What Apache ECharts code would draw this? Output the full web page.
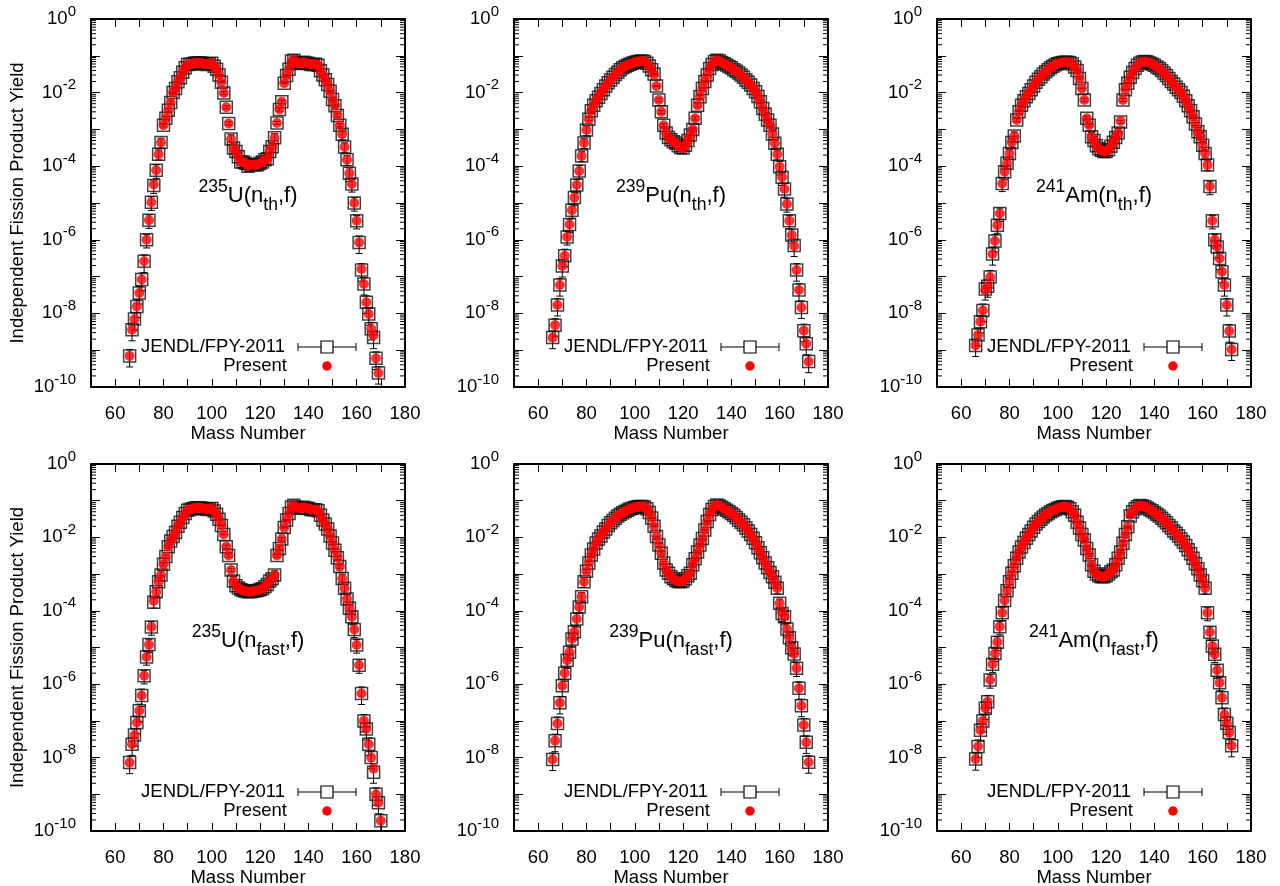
<!DOCTYPE html>
<html><head><meta charset="utf-8">
<script src="https://cdn.jsdelivr.net/npm/echarts@6/dist/echarts.min.js"></script>
<style>html,body{margin:0;padding:0;background:#fff}#c{width:1280px;height:886px}</style>
</head><body><div id="c"></div>
<script>
// ---------- tick labels ----------
const xTickLabels = [60, 80, 100, 120, 140, 160, 180];
const yTickExponents = [0, -2, -4, -6, -8, -10];
const massFirst = 66; // first mass number of every data array

// ---------- 235U(n_th,f) : A = 66..169 ----------
const u235thPresent = [
7e-10,3.6e-9,7e-9,1.55e-8,3.6e-8,8.3e-8,2.6e-7,1.0e-6,3.4e-6,1.05e-5,
3.2e-5,7.8e-5,2.1e-4,4.4e-4,1.3e-3,2.0e-3,3.3e-3,5.4e-3,1.0e-2,1.3e-2,
1.97e-2,2.55e-2,3.6e-2,4.7e-2,5.8e-2,5.9e-2,6.0e-2,6.4e-2,6.4e-2,6.5e-2,
6.3e-2,6.0e-2,5.8e-2,6.1e-2,6.3e-2,5.2e-2,4.3e-2,3.0e-2,1.9e-2,9.7e-3,
4.0e-3,1.45e-3,5.5e-4,3.1e-4,2.5e-4,1.8e-4,1.3e-4,1.3e-4,1.2e-4,1.0e-4,
1.1e-4,1.1e-4,1.1e-4,1.1e-4,1.2e-4,1.3e-4,1.5e-4,1.6e-4,2.5e-4,3.4e-4,
5.9e-4,1.5e-3,3.5e-3,5.6e-3,1.8e-2,2.9e-2,4.3e-2,6.7e-2,7.8e-2,6.5e-2,
6.3e-2,6.2e-2,6.7e-2,6.4e-2,6.2e-2,5.8e-2,5.8e-2,5.9e-2,5.5e-2,3.9e-2,
3.0e-2,2.25e-2,1.67e-2,1.08e-2,6.5e-3,4.4e-3,2.4e-3,1.3e-3,7.4e-4,3.3e-4,
1.5e-4,6.4e-5,3.3e-5,1.0e-5,3.3e-6,8.5e-7,1.6e-7,6.3e-8,2.0e-8,9.6e-9,
3.8e-9,2.5e-9,6.0e-10,2.4e-10];
const u235thJendl = [
7e-10,3.6e-9,7e-9,1.55e-8,3.6e-8,8.3e-8,2.6e-7,1.0e-6,3.4e-6,1.05e-5,
3.0e-5,7.8e-5,2.1e-4,4.4e-4,1.3e-3,2.0e-3,3.3e-3,5.4e-3,1.0e-2,1.3e-2,
1.97e-2,2.55e-2,3.6e-2,4.7e-2,5.8e-2,5.9e-2,6.0e-2,6.4e-2,6.4e-2,6.5e-2,
6.3e-2,6.0e-2,5.8e-2,6.1e-2,6.3e-2,5.2e-2,4.3e-2,3.0e-2,1.9e-2,9.7e-3,
4.0e-3,1.45e-3,5.5e-4,3.1e-4,2.5e-4,1.8e-4,1.3e-4,1.3e-4,1.2e-4,1.0e-4,
1.1e-4,1.1e-4,1.1e-4,1.1e-4,1.2e-4,1.3e-4,1.5e-4,1.6e-4,2.5e-4,3.4e-4,
5.9e-4,1.5e-3,3.5e-3,5.6e-3,1.8e-2,2.9e-2,4.3e-2,7.2e-2,7.6e-2,6.5e-2,
6.3e-2,6.2e-2,6.7e-2,6.4e-2,6.2e-2,5.8e-2,5.8e-2,5.9e-2,5.5e-2,3.9e-2,
3.0e-2,2.25e-2,1.67e-2,1.08e-2,6.5e-3,4.4e-3,2.4e-3,1.3e-3,7.4e-4,3.3e-4,
1.5e-4,6.4e-5,3.3e-5,1.0e-5,3.3e-6,8.5e-7,1.5e-7,6.3e-8,2.0e-8,9.6e-9,
3.8e-9,2.2e-9,6.0e-10,2.4e-10];
const u235thErrPct = [
50,50,50,50,50,50,50,40,40,40,
40,40,30,30,10,10,10,10,3,3,
3,3,3,3,3,3,3,3,3,3,
3,3,3,3,3,3,3,3,3,10,
10,10,30,30,30,30,30,30,30,30,
30,30,30,30,30,30,30,30,30,30,
30,10,10,10,3,3,3,3,3,3,
3,3,3,3,3,3,3,3,3,3,
3,3,3,3,10,10,10,10,30,30,
30,40,40,40,40,50,50,50,50,50,
50,50,50,50];

// ---------- 239Pu(n_th,f) : A = 66..172 ----------
const pu239thPresent = [
2.2e-9,4.8e-9,1.7e-8,5.9e-8,1.95e-7,3.7e-7,1.2e-6,2.6e-6,6.4e-6,1.4e-5,
3.1e-5,7.4e-5,1.9e-4,4.3e-4,9.6e-4,1.9e-3,3.2e-3,4.5e-3,6.0e-3,7.5e-3,
9.5e-3,1.2e-2,1.5e-2,1.85e-2,2.2e-2,2.6e-2,3.1e-2,3.6e-2,4.2e-2,4.7e-2,
5.1e-2,5.5e-2,5.9e-2,6.3e-2,6.6e-2,6.9e-2,7.1e-2,7.2e-2,7.0e-2,6.3e-2,
5.3e-2,4.2e-2,3.0e-2,1.5e-2,6.3e-3,3.0e-3,1.3e-3,8.0e-4,6.0e-4,5.2e-4,
4.6e-4,4.2e-4,3.6e-4,3.2e-4,3.1e-4,3.7e-4,5.0e-4,7.0e-4,1.0e-3,2.0e-3,
4.5e-3,7.7e-3,1.3e-2,2.0e-2,3.0e-2,4.5e-2,5.8e-2,7.0e-2,7.6e-2,7.2e-2,
6.6e-2,6.1e-2,5.6e-2,5.1e-2,4.7e-2,4.2e-2,3.8e-2,3.4e-2,3.0e-2,2.6e-2,
2.2e-2,1.9e-2,1.6e-2,1.3e-2,1.05e-2,7.8e-3,5.6e-3,3.7e-3,2.6e-3,1.8e-3,
1.3e-3,7.5e-4,4.2e-4,2.1e-4,9.7e-5,5.0e-5,2.4e-5,9.4e-6,3.3e-6,1.35e-6,
6.8e-7,1.5e-7,4.3e-8,1.45e-8,3.4e-9,1.5e-9,4.9e-10];
const pu239thJendl = [
2.2e-9,4.8e-9,1.7e-8,5.9e-8,1.95e-7,3.7e-7,1.2e-6,2.6e-6,6.4e-6,1.4e-5,
3.1e-5,7.4e-5,1.9e-4,4.3e-4,9.6e-4,1.9e-3,3.2e-3,4.5e-3,6.0e-3,7.5e-3,
9.5e-3,1.2e-2,1.5e-2,1.85e-2,2.2e-2,2.6e-2,3.1e-2,3.6e-2,4.2e-2,4.7e-2,
5.1e-2,5.5e-2,5.9e-2,6.3e-2,6.6e-2,6.9e-2,7.1e-2,7.2e-2,7.0e-2,6.3e-2,
5.3e-2,4.2e-2,3.2e-2,1.5e-2,6.3e-3,3.0e-3,1.3e-3,8.0e-4,6.0e-4,5.2e-4,
4.6e-4,4.2e-4,3.6e-4,3.2e-4,3.1e-4,3.7e-4,5.0e-4,7.0e-4,1.0e-3,2.0e-3,
4.5e-3,7.7e-3,1.3e-2,2.0e-2,3.0e-2,4.5e-2,5.8e-2,7.0e-2,7.6e-2,7.2e-2,
6.6e-2,6.1e-2,5.6e-2,5.1e-2,4.7e-2,4.2e-2,3.8e-2,3.4e-2,3.0e-2,2.6e-2,
2.2e-2,1.9e-2,1.6e-2,1.3e-2,1.05e-2,7.8e-3,5.6e-3,3.7e-3,2.6e-3,1.8e-3,
1.3e-3,7.5e-4,4.2e-4,2.1e-4,9.7e-5,5.0e-5,2.4e-5,9.4e-6,3.3e-6,1.35e-6,
7.0e-7,1.5e-7,4.3e-8,1.45e-8,3.4e-9,1.5e-9,4.9e-10];
const pu239thErrPct = [
50,50,50,50,50,50,40,40,40,40,
40,40,30,30,30,10,10,10,10,10,
10,3,3,3,3,3,3,3,3,3,
3,3,3,3,3,3,3,3,3,3,
3,3,3,3,10,10,10,30,30,30,
30,30,30,30,30,30,30,30,10,10,
10,10,3,3,3,3,3,3,3,3,
3,3,3,3,3,3,3,3,3,3,
3,3,3,3,3,10,10,10,10,10,
10,30,30,30,40,40,40,40,40,40,
50,50,50,50,50,50,50];

// ---------- 241Am(n_th,f) : A = 66..172 ----------
const am241thPresent = [
1.35e-9,2.6e-9,5.9e-9,1.2e-8,4.3e-8,5.5e-8,9.8e-8,4.1e-7,9.3e-7,2.5e-6,
5.2e-6,3.4e-5,7.1e-5,1.2e-4,2.2e-4,4.4e-4,6.6e-4,1.8e-3,3.0e-3,4.5e-3,
6.0e-3,7.7e-3,9.5e-3,1.2e-2,1.5e-2,1.9e-2,2.3e-2,2.7e-2,3.2e-2,3.7e-2,
4.2e-2,4.7e-2,5.2e-2,5.7e-2,6.1e-2,6.4e-2,6.6e-2,6.7e-2,6.7e-2,6.5e-2,
6.0e-2,5.0e-2,4.0e-2,2.4e-2,1.3e-2,6.3e-3,2.0e-3,1.3e-3,6.3e-4,5.0e-4,
3.6e-4,3.0e-4,2.7e-4,2.5e-4,2.5e-4,2.8e-4,3.5e-4,4.5e-4,6.0e-4,8.0e-4,
1.7e-3,6.3e-3,1.2e-2,1.8e-2,2.6e-2,3.5e-2,4.5e-2,5.5e-2,6.3e-2,6.8e-2,
7.0e-2,6.8e-2,6.4e-2,6.0e-2,5.5e-2,5.0e-2,4.5e-2,4.0e-2,3.4e-2,2.9e-2,
2.4e-2,2.0e-2,1.7e-2,1.4e-2,1.2e-2,1.0e-2,8.0e-3,6.0e-3,4.4e-3,3.2e-3,
2.2e-3,1.4e-3,8.6e-4,6.3e-4,3.7e-4,2.2e-4,1.07e-4,2.8e-5,3.3e-6,1.0e-6,
6.4e-7,3.1e-7,1.35e-7,5.9e-8,1.7e-8,3.3e-9,1.05e-9];
const am241thJendl = [
1.35e-9,2.6e-9,5.9e-9,1.2e-8,4.6e-8,5.5e-8,9.8e-8,4.1e-7,9.3e-7,2.5e-6,
5.2e-6,3.4e-5,7.1e-5,1.2e-4,2.2e-4,4.4e-4,6.6e-4,1.8e-3,3.0e-3,4.5e-3,
6.0e-3,7.7e-3,9.5e-3,1.2e-2,1.5e-2,1.9e-2,2.3e-2,2.7e-2,3.2e-2,3.7e-2,
4.2e-2,4.7e-2,5.2e-2,5.7e-2,6.1e-2,6.4e-2,6.6e-2,6.7e-2,6.7e-2,6.5e-2,
6.0e-2,5.0e-2,4.0e-2,2.4e-2,1.3e-2,6.3e-3,2.0e-3,1.3e-3,6.3e-4,5.0e-4,
3.6e-4,3.0e-4,2.7e-4,2.5e-4,2.5e-4,2.8e-4,3.5e-4,4.5e-4,6.0e-4,8.0e-4,
1.6e-3,6.3e-3,1.2e-2,1.8e-2,2.6e-2,3.5e-2,4.5e-2,5.5e-2,6.3e-2,6.8e-2,
7.0e-2,6.8e-2,6.4e-2,6.0e-2,5.5e-2,5.0e-2,4.5e-2,4.0e-2,3.4e-2,2.9e-2,
2.4e-2,2.0e-2,1.7e-2,1.4e-2,1.2e-2,1.0e-2,8.0e-3,6.0e-3,4.4e-3,3.2e-3,
2.2e-3,1.4e-3,8.6e-4,6.3e-4,3.7e-4,2.2e-4,1.07e-4,2.8e-5,3.3e-6,1.0e-6,
6.4e-7,3.1e-7,1.35e-7,5.9e-8,1.7e-8,3.3e-9,1.05e-9];
const am241thErrPct = [
50,50,50,50,50,50,50,50,50,40,
40,40,40,30,30,30,30,10,10,10,
10,10,10,3,3,3,3,3,3,3,
3,3,3,3,3,3,3,3,3,3,
3,3,3,3,3,10,10,10,30,30,
30,30,30,30,30,30,30,30,30,30,
10,10,3,3,3,3,3,3,3,3,
3,3,3,3,3,3,3,3,3,3,
3,3,3,3,3,3,10,10,10,10,
10,10,30,30,30,30,30,40,40,40,
50,50,50,50,50,50,50];

// ---------- 235U(n_fast,f) : A = 66..170 ----------
const u235fastPresent = [
7.3e-9,2.3e-8,4.1e-8,9e-8,1.9e-7,4.9e-7,1.7e-6,5.5e-6,1.2e-5,3.6e-5,
1.85e-4,3.3e-4,6.2e-4,9.5e-4,1.85e-3,3.0e-3,5.6e-3,8.0e-3,1.05e-2,1.35e-2,
2.0e-2,2.6e-2,3.5e-2,4.5e-2,5.5e-2,5.8e-2,6.0e-2,6.3e-2,6.4e-2,6.4e-2,
6.2e-2,6.0e-2,5.8e-2,6.0e-2,6.1e-2,5.2e-2,4.3e-2,3.1e-2,2.1e-2,1.2e-2,
5.6e-3,3.2e-3,1.3e-3,6.5e-4,4.8e-4,4.2e-4,3.8e-4,3.6e-4,3.4e-4,3.3e-4,
3.3e-4,3.4e-4,3.5e-4,3.6e-4,3.8e-4,4.0e-4,4.5e-4,5.2e-4,6.5e-4,7.5e-4,
9.5e-4,3.2e-3,5.0e-3,9.0e-3,1.85e-2,3.0e-2,4.5e-2,6.7e-2,7.5e-2,6.6e-2,
6.3e-2,6.2e-2,6.6e-2,6.3e-2,6.1e-2,5.8e-2,5.7e-2,5.7e-2,5.3e-2,4.0e-2,
3.0e-2,2.3e-2,1.7e-2,1.1e-2,7.0e-3,4.5e-3,2.8e-3,1.6e-3,7.6e-4,4.1e-4,
2.1e-4,1.17e-4,6.9e-5,3.1e-5,1.17e-5,3.3e-6,5.6e-7,1.0e-7,6.0e-8,2.3e-8,
1.0e-8,5.0e-9,1.0e-9,5.9e-10,1.9e-10];
const u235fastJendl = [
7.3e-9,2.3e-8,4.1e-8,9e-8,1.9e-7,4.9e-7,1.7e-6,5.5e-6,1.2e-5,3.6e-5,
1.7e-4,3.3e-4,6.2e-4,9.5e-4,1.85e-3,3.0e-3,5.6e-3,8.0e-3,1.05e-2,1.35e-2,
2.0e-2,2.6e-2,3.5e-2,4.5e-2,5.5e-2,5.8e-2,6.0e-2,6.3e-2,6.4e-2,6.4e-2,
6.2e-2,6.0e-2,5.8e-2,6.0e-2,6.1e-2,5.2e-2,4.3e-2,3.1e-2,2.1e-2,1.2e-2,
5.6e-3,3.2e-3,1.3e-3,6.5e-4,4.8e-4,4.2e-4,3.8e-4,3.6e-4,3.4e-4,3.3e-4,
3.3e-4,3.4e-4,3.5e-4,3.6e-4,3.8e-4,4.0e-4,4.5e-4,5.2e-4,6.5e-4,7.5e-4,
9.5e-4,3.2e-3,5.0e-3,9.0e-3,1.85e-2,3.0e-2,4.5e-2,6.7e-2,7.5e-2,6.6e-2,
6.3e-2,6.2e-2,6.6e-2,6.3e-2,6.1e-2,5.8e-2,5.7e-2,5.7e-2,5.3e-2,4.0e-2,
3.0e-2,2.3e-2,1.7e-2,1.1e-2,7.0e-3,4.5e-3,2.8e-3,1.6e-3,7.6e-4,4.1e-4,
2.1e-4,1.17e-4,6.9e-5,3.1e-5,1.17e-5,3.3e-6,5.6e-7,1.0e-7,6.0e-8,2.3e-8,
1.0e-8,4.0e-9,1.0e-9,5.9e-10,1.9e-10];
const u235fastErrPct = [
50,50,50,50,50,50,40,40,40,40,
30,30,30,30,10,10,10,10,3,3,
3,3,3,3,3,3,3,3,3,3,
3,3,3,3,3,3,3,3,3,3,
10,10,10,30,30,30,30,30,30,30,
30,30,30,30,30,30,30,30,30,30,
30,10,10,10,3,3,3,3,3,3,
3,3,3,3,3,3,3,3,3,3,
3,3,3,3,10,10,10,10,30,30,
30,30,40,40,40,40,50,50,50,50,
50,50,50,50,50];

// ---------- 239Pu(n_fast,f) : A = 66..172 ----------
const pu239fastPresent = [
8.9e-9,2.9e-8,8.5e-8,3.1e-7,9.1e-7,2.0e-6,4.5e-6,7.4e-6,1.7e-5,2.7e-5,
6.0e-5,1.27e-4,2.4e-4,6.2e-4,1.2e-3,2.0e-3,3.3e-3,4.8e-3,7.0e-3,9.0e-3,
1.1e-2,1.4e-2,1.7e-2,2.1e-2,2.5e-2,2.9e-2,3.3e-2,3.8e-2,4.3e-2,4.7e-2,
5.1e-2,5.5e-2,5.9e-2,6.2e-2,6.5e-2,6.8e-2,7.0e-2,7.0e-2,6.7e-2,6.0e-2,
4.8e-2,3.4e-2,2.0e-2,1.05e-2,6.2e-3,3.7e-3,2.0e-3,1.3e-3,1.05e-3,8.5e-4,
7.5e-4,6.7e-4,6.3e-4,6.2e-4,6.5e-4,7.5e-4,9.0e-4,1.05e-3,1.8e-3,2.6e-3,
4.0e-3,6.2e-3,9.4e-3,1.6e-2,2.7e-2,4.2e-2,5.8e-2,7.0e-2,7.6e-2,7.2e-2,
6.6e-2,6.0e-2,5.5e-2,5.0e-2,4.5e-2,4.0e-2,3.5e-2,3.0e-2,2.6e-2,2.2e-2,
1.8e-2,1.5e-2,1.2e-2,9.5e-3,7.2e-3,5.2e-3,3.8e-3,2.8e-3,2.0e-3,1.5e-3,
1.1e-3,8.5e-4,6.0e-4,4.1e-4,1.6e-4,9.1e-5,6.9e-5,3.2e-5,1.85e-5,9.9e-6,
6.7e-6,2.7e-6,7.7e-7,2.6e-7,7.7e-8,2.6e-8,7.5e-9];
const pu239fastJendl = [
8.9e-9,2.9e-8,8.5e-8,3.1e-7,9.1e-7,2.0e-6,4.5e-6,7.4e-6,1.7e-5,2.7e-5,
6.0e-5,1.27e-4,2.4e-4,6.2e-4,1.2e-3,2.0e-3,3.3e-3,4.8e-3,7.0e-3,9.0e-3,
1.1e-2,1.4e-2,1.7e-2,2.1e-2,2.5e-2,2.9e-2,3.3e-2,3.8e-2,4.3e-2,4.7e-2,
5.1e-2,5.5e-2,5.9e-2,6.2e-2,6.5e-2,6.8e-2,7.0e-2,7.0e-2,6.7e-2,6.0e-2,
4.8e-2,3.4e-2,2.0e-2,1.05e-2,6.2e-3,3.7e-3,2.0e-3,1.3e-3,1.05e-3,8.5e-4,
7.5e-4,6.7e-4,6.3e-4,6.2e-4,6.5e-4,7.5e-4,9.0e-4,1.05e-3,1.8e-3,2.6e-3,
4.0e-3,6.2e-3,9.4e-3,1.6e-2,2.7e-2,4.2e-2,5.8e-2,7.0e-2,7.6e-2,7.2e-2,
6.6e-2,6.0e-2,5.5e-2,5.0e-2,4.5e-2,4.0e-2,3.5e-2,3.0e-2,2.6e-2,2.2e-2,
1.8e-2,1.5e-2,1.2e-2,9.5e-3,7.2e-3,5.2e-3,3.8e-3,2.8e-3,2.0e-3,1.5e-3,
1.1e-3,8.5e-4,6.0e-4,4.1e-4,1.6e-4,8.5e-5,6.9e-5,3.2e-5,1.85e-5,9.9e-6,
6.7e-6,2.7e-6,7.7e-7,2.6e-7,7.7e-8,2.6e-8,7.5e-9];
const pu239fastErrPct = [
50,50,50,50,50,40,40,40,40,40,
40,30,30,30,10,10,10,10,10,10,
3,3,3,3,3,3,3,3,3,3,
3,3,3,3,3,3,3,3,3,3,
3,3,3,3,10,10,10,10,10,30,
30,30,30,30,30,30,30,10,10,10,
10,10,10,3,3,3,3,3,3,3,
3,3,3,3,3,3,3,3,3,3,
3,3,3,10,10,10,10,10,10,10,
10,30,30,30,30,40,40,40,40,40,
40,40,50,50,50,50,50];

// ---------- 241Am(n_fast,f) : A = 66..172 ----------
const am241fastPresent = [
9.1e-9,2.0e-8,5.6e-8,1.0e-7,2.2e-7,3.3e-7,1.3e-6,3.5e-6,6.9e-6,1.4e-5,
3.7e-5,8.9e-5,1.9e-4,3.5e-4,6.2e-4,1.05e-3,1.7e-3,2.7e-3,4.0e-3,5.5e-3,
7.3e-3,9.5e-3,1.2e-2,1.5e-2,1.9e-2,2.3e-2,2.7e-2,3.1e-2,3.6e-2,4.1e-2,
4.5e-2,5.0e-2,5.4e-2,5.8e-2,6.2e-2,6.5e-2,6.8e-2,6.9e-2,6.6e-2,6.0e-2,
5.0e-2,4.0e-2,2.6e-2,1.8e-2,1.2e-2,8.5e-3,5.0e-3,3.3e-3,1.8e-3,1.2e-3,
1.0e-3,9.0e-4,8.5e-4,8.5e-4,9.0e-4,1.0e-3,1.15e-3,1.3e-3,1.8e-3,2.7e-3,
4.0e-3,6.9e-3,1.2e-2,1.95e-2,4.1e-2,5.0e-2,6.0e-2,6.8e-2,7.4e-2,7.2e-2,
6.8e-2,6.3e-2,5.8e-2,5.3e-2,4.8e-2,4.3e-2,3.8e-2,3.3e-2,2.9e-2,2.5e-2,
2.1e-2,1.8e-2,1.5e-2,1.3e-2,1.1e-2,9.0e-3,7.5e-3,6.0e-3,4.6e-3,3.6e-3,
2.7e-3,1.9e-3,1.4e-3,9.5e-4,6.6e-4,4.1e-4,8.9e-5,2.6e-5,1.1e-5,6.5e-6,
2.4e-6,1.1e-6,4.3e-7,1.5e-7,8.6e-8,4.8e-8,2.1e-8];
const am241fastJendl = [
9.1e-9,2.0e-8,5.6e-8,1.0e-7,2.2e-7,3.3e-7,1.3e-6,3.5e-6,6.9e-6,1.4e-5,
3.7e-5,8.9e-5,1.9e-4,3.5e-4,6.2e-4,1.05e-3,1.7e-3,2.7e-3,4.0e-3,5.5e-3,
7.3e-3,9.5e-3,1.2e-2,1.5e-2,1.9e-2,2.3e-2,2.7e-2,3.1e-2,3.6e-2,4.1e-2,
4.5e-2,5.0e-2,5.4e-2,5.8e-2,6.2e-2,6.5e-2,6.8e-2,6.9e-2,6.6e-2,6.0e-2,
5.0e-2,4.0e-2,2.6e-2,1.8e-2,1.2e-2,8.5e-3,5.0e-3,3.3e-3,1.8e-3,1.2e-3,
1.0e-3,9.0e-4,8.5e-4,8.5e-4,9.0e-4,1.0e-3,1.15e-3,1.3e-3,1.8e-3,2.7e-3,
4.0e-3,6.9e-3,1.2e-2,1.95e-2,3.8e-2,5.0e-2,6.0e-2,6.8e-2,7.4e-2,7.2e-2,
6.8e-2,6.3e-2,5.8e-2,5.3e-2,4.8e-2,4.3e-2,3.8e-2,3.3e-2,2.9e-2,2.5e-2,
2.1e-2,1.8e-2,1.5e-2,1.3e-2,1.1e-2,9.0e-3,7.5e-3,6.0e-3,4.6e-3,3.6e-3,
2.7e-3,1.9e-3,1.4e-3,9.5e-4,6.6e-4,4.1e-4,8.9e-5,2.6e-5,1.1e-5,6.5e-6,
2.4e-6,1.1e-6,4.3e-7,1.5e-7,8.6e-8,4.8e-8,2.1e-8];
const am241fastErrPct = [
50,50,50,50,50,50,40,40,40,40,
40,40,30,30,30,10,10,10,10,10,
10,10,3,3,3,3,3,3,3,3,
3,3,3,3,3,3,3,3,3,3,
3,3,3,3,3,10,10,10,10,10,
10,30,30,30,30,10,10,10,10,10,
10,10,3,3,3,3,3,3,3,3,
3,3,3,3,3,3,3,3,3,3,
3,3,3,3,3,10,10,10,10,10,
10,10,10,30,30,30,40,40,40,40,
40,40,50,50,50,50,50];

// ---------- panel descriptions ----------
const panels = [
  {col:0,row:0, target:'235', nucl:'U',  proj:'th',   present:u235thPresent,   jendl:u235thJendl,   err:u235thErrPct},
  {col:1,row:0, target:'239', nucl:'Pu', proj:'th',   present:pu239thPresent,  jendl:pu239thJendl,  err:pu239thErrPct},
  {col:2,row:0, target:'241', nucl:'Am', proj:'th',   present:am241thPresent,  jendl:am241thJendl,  err:am241thErrPct},
  {col:0,row:1, target:'235', nucl:'U',  proj:'fast', present:u235fastPresent, jendl:u235fastJendl, err:u235fastErrPct},
  {col:1,row:1, target:'239', nucl:'Pu', proj:'fast', present:pu239fastPresent,jendl:pu239fastJendl,err:pu239fastErrPct},
  {col:2,row:1, target:'241', nucl:'Am', proj:'fast', present:am241fastPresent,jendl:am241fastJendl,err:am241fastErrPct}
];

// ---------- layout ----------
const FONT = '"Liberation Sans", Arial, Helvetica, sans-serif';
const colLeft = [91, 514, 937];
const rowTop = [19, 464];
const boxW = 314;
const boxH = [368, 367];
const X_MIN = 50, X_MAX = 180, Y_MIN = 1e-10, Y_MAX = 1;

// log minor tick positions (2..9 x 10^n) - axis decoration only
const minorTickVals = [];
for (let n = -10; n < 0; n++) for (let k = 2; k <= 9; k++) minorTickVals.push([X_MIN, k * Math.pow(10, n)]);

const axisLineStyle = {show:true, onZero:false, lineStyle:{color:'#000', width:2}};
const tickStyle = {color:'#000', width:1};

function yLabel(v) {
  const e = Math.round(Math.log10(v));
  return yTickExponents.indexOf(e) >= 0 ? '{b|10}{e|' + e + '}' : '';
}
function xLabel(v) {
  const r = Math.round(v);
  return xTickLabels.indexOf(r) >= 0 ? String(r) : '';
}

const option = {backgroundColor:'#ffffff', animation:false, grid:[], xAxis:[], yAxis:[], series:[], graphic:[]};

panels.forEach((p, i) => {
  const L = colLeft[p.col], T = rowTop[p.row], H = boxH[p.row];
  option.grid.push({left:L, top:T, width:boxW, height:H, containLabel:false, outerBoundsMode:'none'});

  option.xAxis.push({
    type:'value', gridIndex:i, min:X_MIN, max:X_MAX, interval:10, position:'bottom',
    axisLine:axisLineStyle, splitLine:{show:false},
    axisTick:{show:true, inside:true, length:8, lineStyle:tickStyle},
    axisLabel:{show:true, margin:17, formatter:xLabel, color:'#000', fontSize:18.5, fontFamily:FONT},
    name:'Mass Number', nameLocation:'middle', nameGap:37,
    nameTextStyle:{color:'#000', fontSize:18.5, fontFamily:FONT}
  });
  option.xAxis.push({
    type:'value', gridIndex:i, min:X_MIN, max:X_MAX, interval:10, position:'top',
    axisLine:axisLineStyle, splitLine:{show:false},
    axisTick:{show:true, inside:true, length:8, lineStyle:tickStyle},
    axisLabel:{show:false}
  });
  const richLab = {
    b:{fontSize:18.5, fontFamily:FONT, color:'#000', lineHeight:30},
    e:{fontSize:15, fontFamily:FONT, color:'#000', lineHeight:14, verticalAlign:'top'}
  };
  // log axes: interval is counted in decades
  option.yAxis.push({
    type:'log', logBase:10, gridIndex:i, min:Y_MIN, max:Y_MAX, interval:1, position:'left',
    axisLine:axisLineStyle, splitLine:{show:false},
    axisTick:{show:true, inside:true, length:9, lineStyle:tickStyle},
    axisLabel:{show:true, margin:15, formatter:yLabel, rich:richLab},
    name: p.col === 0 ? 'Independent Fission Product Yield' : '',
    nameLocation:'middle', nameGap:64,
    nameTextStyle:{color:'#000', fontSize:18.5, fontFamily:FONT}
  });
  option.yAxis.push({
    type:'log', logBase:10, gridIndex:i, min:Y_MIN, max:Y_MAX, interval:1, position:'right',
    axisLine:axisLineStyle, splitLine:{show:false},
    axisTick:{show:true, inside:true, length:9, lineStyle:tickStyle},
    axisLabel:{show:false}
  });

  const xi = 2 * i, yi = 2 * i;

  // minor log ticks on left and right frame edges
  option.series.push({
    type:'custom', xAxisIndex:xi, yAxisIndex:yi, silent:true, clip:false, z:1,
    data: minorTickVals,
    renderItem: (params, api) => {
      const cs = params.coordSys;
      const y = api.coord([api.value(0), api.value(1)])[1];
      return {type:'group', children:[
        {type:'line', shape:{x1:cs.x, y1:y, x2:cs.x + 5, y2:y}, style:{stroke:'#000', lineWidth:1}},
        {type:'line', shape:{x1:cs.x + cs.width - 5, y1:y, x2:cs.x + cs.width, y2:y}, style:{stroke:'#000', lineWidth:1}}
      ]};
    }
  });

  // JENDL error bars
  option.series.push({
    type:'custom', xAxisIndex:xi, yAxisIndex:yi, silent:true, clip:true, z:3,
    data: p.jendl.map((v, k) => [massFirst + k, v, p.err[k]]),
    renderItem: (params, api) => {
      const a = api.value(0), v = api.value(1), s = api.value(2) / 100;
      const lo = api.coord([a, v * (1 - s)]);
      const hi = api.coord([a, v * (1 + s)]);
      const st = {stroke:'#000', lineWidth:1};
      return {type:'group', children:[
        {type:'line', shape:{x1:lo[0], y1:lo[1], x2:hi[0], y2:hi[1]}, style:st},
        {type:'line', shape:{x1:lo[0] - 3.5, y1:lo[1], x2:lo[0] + 3.5, y2:lo[1]}, style:st},
        {type:'line', shape:{x1:hi[0] - 3.5, y1:hi[1], x2:hi[0] + 3.5, y2:hi[1]}, style:st}
      ]};
    }
  });

  // JENDL/FPY-2011 hollow squares
  option.series.push({
    name:'JENDL/FPY-2011', type:'scatter', xAxisIndex:xi, yAxisIndex:yi, silent:true, z:4,
    symbol:'rect', symbolSize:12,
    itemStyle:{color:'rgba(0,0,0,0)', borderColor:'#111', borderWidth:1.5},
    data: p.jendl.map((v, k) => [massFirst + k, v])
  });

  // Present red dots
  option.series.push({
    name:'Present', type:'scatter', xAxisIndex:xi, yAxisIndex:yi, silent:true, z:5,
    symbol:'circle', symbolSize:10,
    itemStyle:{color:'#ff0000', borderWidth:0},
    data: p.present.map((v, k) => [massFirst + k, v])
  });

  // reaction label
  option.graphic.push({
    type:'text', x: L + boxW / 2, y: T + 177, z:100, silent:true,
    style:{
      text:'{s|' + p.target + '}{m|' + p.nucl + '(n}{d|' + p.proj + '}{m|,f)}',
      align:'center', verticalAlign:'middle', fill:'#000',
      rich:{
        s:{fontSize:17.6, fontFamily:FONT, fill:'#000', lineHeight:18, verticalAlign:'top'},
        m:{fontSize:22, fontFamily:FONT, fill:'#000', lineHeight:36},
        d:{fontSize:17.6, fontFamily:FONT, fill:'#000', lineHeight:22, verticalAlign:'bottom'}
      }
    }
  });

  // legend (key)
  const ky1 = T + 328, ky2 = T + 347, kx = L + 236;
  const legStroke = {stroke:'#000', lineWidth:1};
  option.graphic.push(
    {type:'text', x:L + 194, y:ky1, z:100, silent:true,
     style:{text:'JENDL/FPY-2011', align:'right', verticalAlign:'middle', fill:'#000', fontSize:18.5, fontFamily:FONT}},
    {type:'line', z:100, silent:true, shape:{x1:L + 207, y1:ky1, x2:L + 265, y2:ky1}, style:legStroke},
    {type:'line', z:100, silent:true, shape:{x1:L + 207, y1:ky1 - 4, x2:L + 207, y2:ky1 + 4}, style:legStroke},
    {type:'line', z:100, silent:true, shape:{x1:L + 265, y1:ky1 - 4, x2:L + 265, y2:ky1 + 4}, style:legStroke},
    {type:'rect', z:101, silent:true, shape:{x:kx - 6, y:ky1 - 6, width:12, height:12}, style:{fill:'#fff', stroke:'#000', lineWidth:1.2}},
    {type:'text', x:L + 196, y:ky2, z:100, silent:true,
     style:{text:'Present', align:'right', verticalAlign:'middle', fill:'#000', fontSize:18.5, fontFamily:FONT}},
    {type:'circle', z:100, silent:true, shape:{cx:kx, cy:ky2, r:4.75}, style:{fill:'#ff0000'}}
  );
});

const chart = echarts.init(document.getElementById('c'), null, {renderer:'canvas', width:1280, height:886});
chart.setOption(option);
</script>
</body></html>
